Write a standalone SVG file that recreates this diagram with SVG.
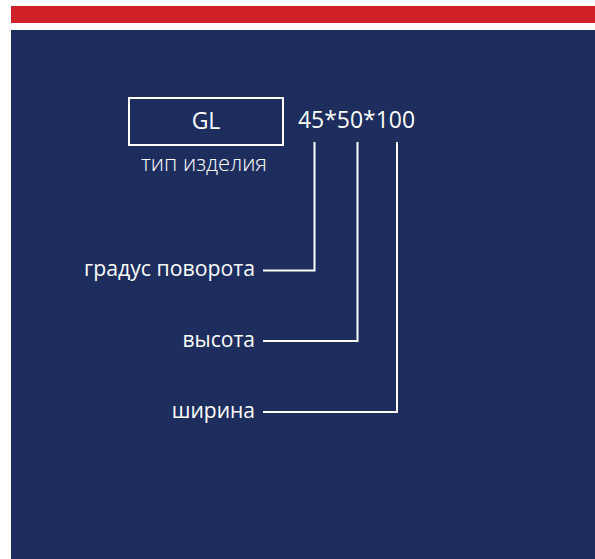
<svg xmlns="http://www.w3.org/2000/svg" width="595" height="559" viewBox="0 0 595 559">
<style>
.t{font-family:"Open Sans","Noto Sans","Liberation Sans",sans-serif;fill:#ffffff}
.lbl{font-size:21px;text-anchor:end}
.c{fill:none;stroke:#ffffff;stroke-width:2}
</style>
<rect x="0" y="0" width="595" height="559" fill="#ffffff"/>
<rect x="11" y="6" width="584" height="17" fill="#cf2027"/>
<rect x="11" y="30" width="584" height="529" fill="#1c2d5e"/>
<g id="type">
<rect x="129" y="98" width="154" height="47" class="c"/>
<text x="206" y="129" class="t" font-size="23" text-anchor="middle">GL</text>
<text x="141" y="171" class="t" font-size="21.5" font-weight="300" textLength="126" lengthAdjust="spacingAndGlyphs">тип изделия</text>
</g>
<g id="dims">
<text x="298" y="128" class="t" font-size="23.5" textLength="117" lengthAdjust="spacingAndGlyphs">45*50*100</text>
</g>
<g id="angle"><text x="84" y="276" class="t" font-size="21" textLength="171" lengthAdjust="spacingAndGlyphs">градус поворота</text></g>
<g id="height"><text x="255" y="347" class="t lbl">высота</text></g>
<g id="width"><text x="255" y="418" class="t lbl">ширина</text></g>
<g id="connectors">
<polyline class="c" points="314.5,142 314.5,270.5 263,270.5"/>
<polyline class="c" points="357.5,142 357.5,341 263,341"/>
<polyline class="c" points="397,142 397,412 263,412"/>
</g>
</svg>
